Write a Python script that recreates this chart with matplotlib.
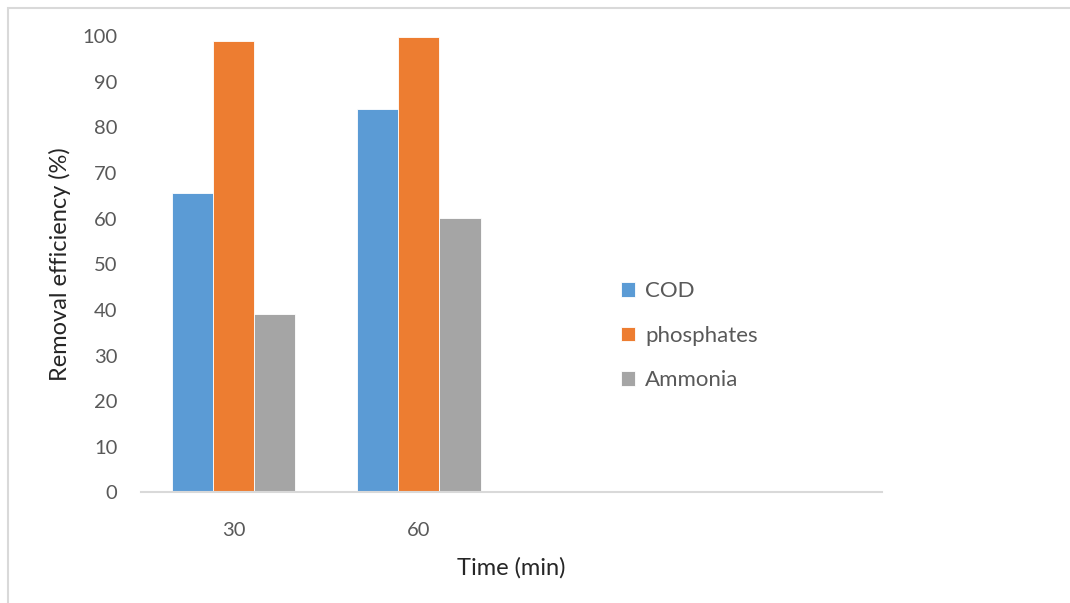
import numpy as np
import matplotlib as mpl
mpl.rcParams['font.family'] = ['Lato', 'DejaVu Sans']
import matplotlib.pyplot as plt
from matplotlib.patches import Rectangle

# data
times    = ['30', '60', '', '']
cod      = [65.7, 84.0]
phosph   = [98.9, 99.8]
ammonia  = [39.0, 60.1]
yticks   = [0, 10, 20, 30, 40, 50, 60, 70, 80, 90, 100]

c_cod = '#5B9BD5'
c_pho = '#ED7D31'
c_amm = '#A5A5A5'
gray_txt = '#595959'

fig = plt.figure(figsize=(10.70, 6.03), dpi=100, facecolor='w')
ax = fig.add_axes([0.1318, 0.1833, 0.6925, 0.7570])

x = np.arange(len(times))
w = 1.0 / 4.5
n = len(cod)
ax.bar(x[:n] - w, cod,     w, color=c_cod, edgecolor='white', linewidth=0.6, label='COD')
ax.bar(x[:n],     phosph,  w, color=c_pho, edgecolor='white', linewidth=0.6, label='phosphates')
ax.bar(x[:n] + w, ammonia, w, color=c_amm, edgecolor='white', linewidth=0.6, label='Ammonia')

ax.set_xlim(-0.5, len(times) - 0.5)
ax.set_ylim(0, 100)
ax.set_xticks(x)
ax.set_xticklabels(times)
ax.set_yticks(yticks)
for s in ['top', 'right', 'left']:
    ax.spines[s].set_visible(False)
ax.spines['bottom'].set_color('#D9D9D9')
ax.spines['bottom'].set_linewidth(1.5)
ax.tick_params(axis='both', length=0, labelsize=14.5, colors=gray_txt)
ax.tick_params(axis='y', pad=17)
ax.tick_params(axis='x', pad=21)

ax.set_ylabel('Removal efficiency (%)', fontsize=17, color='#262626', labelpad=8)
ax.set_xlabel('Time (min)', fontsize=17, color='#262626', labelpad=13)

ax.legend(frameon=False, loc='center left', bbox_to_anchor=(0.648, 0.343),
          borderaxespad=0, borderpad=0,
          fontsize=16, labelcolor=gray_txt, handlelength=0.62, handleheight=0.62,
          handletextpad=0.45, labelspacing=1.1)

# thin frame of the chart area (left and top edges visible)
fig.patches.append(Rectangle((8/1070., -0.1), 1.2, 1.1 - 8/603., transform=fig.transFigure,
                             fill=False, edgecolor='#D9D9D9', linewidth=1.5))

plt.savefig('out.png', dpi=100, facecolor='w')
